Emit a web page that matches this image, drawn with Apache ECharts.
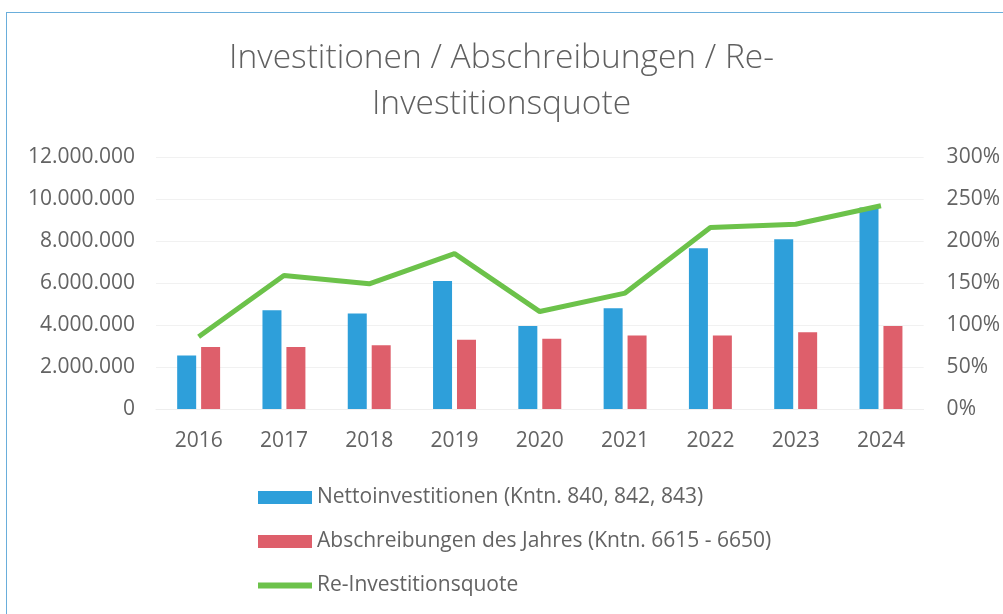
<!DOCTYPE html>
<html>
<head>
<meta charset="utf-8">
<script src="https://cdn.jsdelivr.net/npm/echarts@6/dist/echarts.min.js"></script>
<style>
	html, body { margin: 0; padding: 0; background: #fff; }
	#frame {
		position: absolute; left: 6px; top: 12px; width: 1010px; height: 620px;
		border-top: 1.5px solid #6aaedb; border-left: 1.5px solid #6aaedb;
	}
	#chart { position: absolute; left: 0; top: 0; width: 1003px; height: 614px; }
</style>
</head>
<body>
<div id="frame"></div>
<div id="chart"></div>
<script>
// Jahre
const years = ['2016', '2017', '2018', '2019', '2020', '2021', '2022', '2023', '2024'];
// Nettoinvestitionen (Kntn. 840, 842, 843)
const netto = [2550000, 4700000, 4550000, 6100000, 3950000, 4800000, 7650000, 8080000, 9600000];
// Abschreibungen des Jahres (Kntn. 6615 - 6650)
const abschreibungen = [2950000, 2950000, 3030000, 3300000, 3350000, 3500000, 3500000, 3650000, 3950000];
// Re-Investitionsquote in %
const quote = [86, 159, 149, 185, 116, 138, 216, 220, 242];

const grey = '#636363';
const font = '"Open Sans", sans-serif';

const myChart = echarts.init(document.getElementById('chart'));
const option = {
	title: {
		text: 'Investitionen / Abschreibungen / Re-\nInvestitionsquote',
		left: 'center',
		top: 35,
		padding: 0,
		textStyle: {
			color: '#606060',
			fontFamily: font,
			fontWeight: 300,
			fontSize: 33.5,
			lineHeight: 46,
		},
	},
	legend: {
		orient: 'vertical',
		left: 258,
		top: 487,
		padding: 0,
		itemWidth: 54,
		itemHeight: 13,
		itemGap: 23,
		textStyle: { color: grey, fontFamily: font, fontSize: 21 },
		data: [
			{ name: 'Nettoinvestitionen (Kntn. 840, 842, 843)', icon: 'rect' },
			{ name: 'Abschreibungen des Jahres (Kntn. 6615 - 6650)', icon: 'rect' },
			{ name: 'Re-Investitionsquote', icon: 'path://M0,0 L54,0 L54,6 L0,6 Z' },
		],
	},
	grid: {
		left: 156,
		right: 79,
		top: 157,
		bottom: 205,
	},
	xAxis: [
		{
			type: 'category',
			data: years,
			axisTick: { show: false },
			axisLine: { lineStyle: { color: '#eeeeee' } },
			axisLabel: { color: grey, fontFamily: font, fontSize: 21, margin: 22 },
		},
	],
	yAxis: [
		{
			type: 'value',
			min: 0,
			max: 12000000,
			interval: 2000000,
			axisLabel: {
				color: grey,
				fontFamily: font,
				fontSize: 21,
				margin: 21,
				formatter: (v) => v.toString().replace(/\B(?=(\d{3})+(?!\d))/g, '.'),
			},
			splitLine: { lineStyle: { color: '#f1f1f1' } },
		},
		{
			type: 'value',
			min: 0,
			max: 300,
			interval: 50,
			axisLabel: {
				color: grey,
				fontFamily: font,
				fontSize: 21,
				margin: 23,
				formatter: '{value}%',
			},
			splitLine: { show: false },
		},
	],
	series: [
		{
			name: 'Nettoinvestitionen (Kntn. 840, 842, 843)',
			type: 'bar',
			barWidth: 19,
			barGap: '26%',
			itemStyle: { color: '#2e9fda' },
			data: netto,
		},
		{
			name: 'Abschreibungen des Jahres (Kntn. 6615 - 6650)',
			type: 'bar',
			barWidth: 19,
			itemStyle: { color: '#de5f6b' },
			data: abschreibungen,
		},
		{
			name: 'Re-Investitionsquote',
			type: 'line',
			yAxisIndex: 1,
			symbol: 'none',
			itemStyle: { color: '#6cc24a' },
			lineStyle: { color: '#6cc24a', width: 5 },
			data: quote,
		},
	],
};
myChart.setOption(option);
</script>
</body>
</html>
